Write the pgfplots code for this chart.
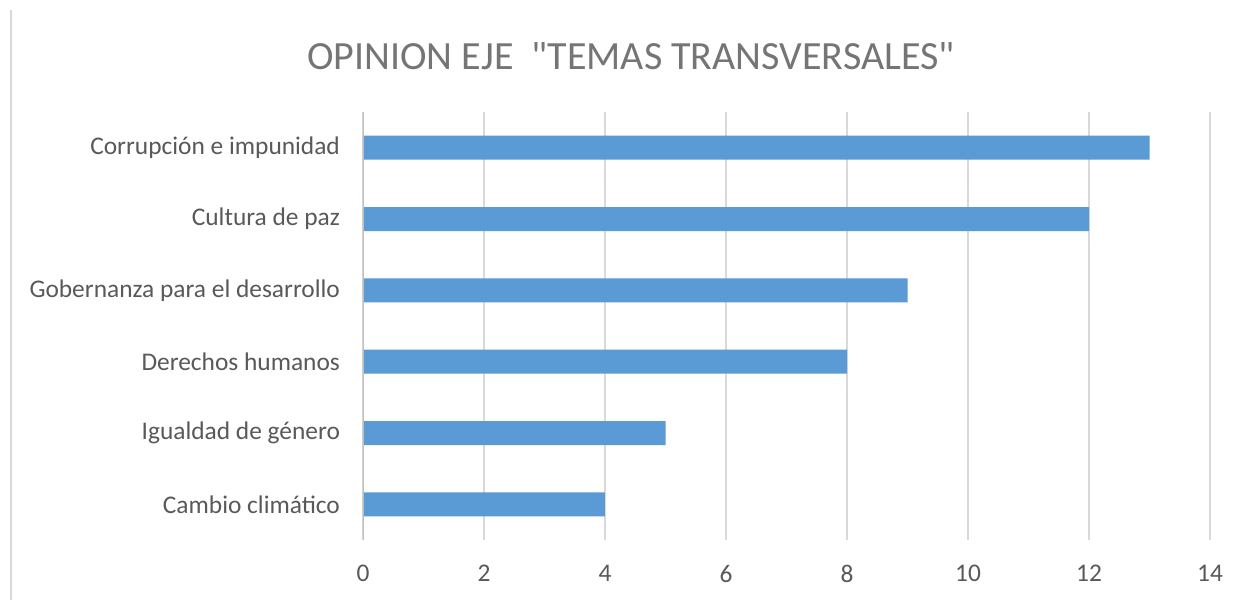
\documentclass[border=0pt]{standalone}
\usepackage{fontspec}
\setmainfont{Carlito}
\newfontfamily\titlefont{Carlito}
\usepackage{pgfplots}
\pgfplotsset{compat=1.18}
\definecolor{barc}{HTML}{5B9BD5}
\definecolor{txtc}{HTML}{595959}
\definecolor{titc}{HTML}{757575}
\definecolor{gridc}{HTML}{D9D9D9}
\definecolor{axisc}{HTML}{BFBFBF}
\begin{document}
\begin{tikzpicture}
\useasboundingbox[fill=white] (0,0) rectangle (624.5pt,300pt);
\draw[gridc, line width=0.6pt] (5.5pt,0) -- (5.5pt,295pt);
\node[anchor=base, text=titc, font=\titlefont\fontsize{20}{24}\selectfont] at (315.5pt,265pt) {OPINION EJE~~"TEMAS TRANSVERSALES"};
\begin{axis}[
  at={(181.5pt,30pt)}, anchor=south west,
  scale only axis, width=423.5pt, height=214pt,
  xmin=0, xmax=14, ymin=-0.5, ymax=5.5,
  xtick={0,2,...,14},
  ytick={0,1,2,3,4,5},
  yticklabels={Cambio climático, Igualdad de género, Derechos humanos, Gobernanza para el desarrollo, Cultura de paz, Corrupción e impunidad},
  axis line style={draw=none},
  major tick length=0pt,
  xmajorgrids, major grid style={gridc, line width=0.8pt},
  tick label style={text=txtc, font=\fontsize{12.7}{14}\selectfont},
  /pgf/number format/assume math mode=true,
  xticklabel style={yshift=-9pt},
  yticklabel style={xshift=-8pt},
  xbar, bar width=12pt,
]
\addplot[fill=barc, draw=none] coordinates {(4,0) (5,1) (8,2) (9,3) (12,4) (13,5)};
\draw[axisc, line width=0.8pt] (axis cs:0,-0.5) -- (axis cs:0,5.5);
\end{axis}
\end{tikzpicture}
\end{document}
